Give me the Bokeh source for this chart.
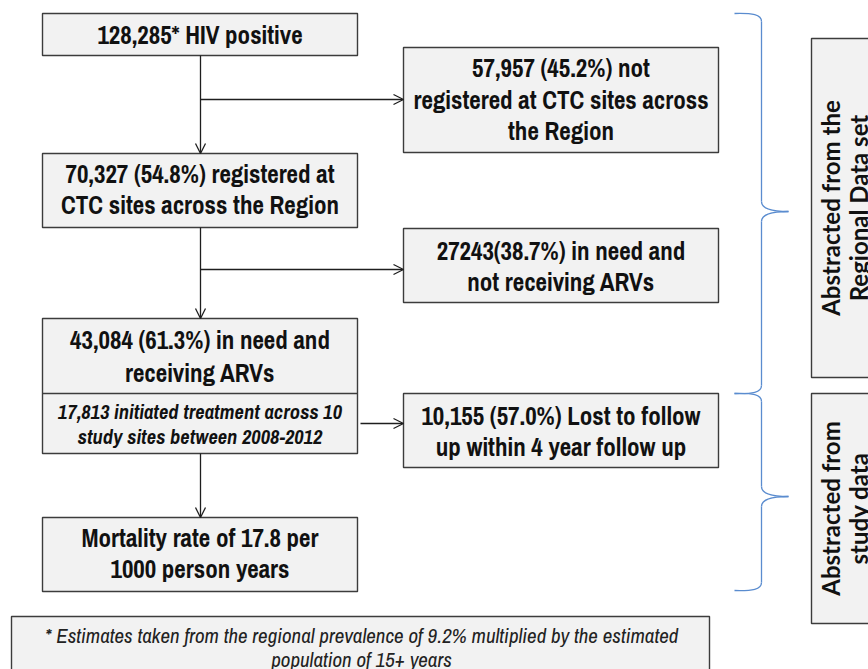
from bokeh.plotting import figure
from bokeh.models import Range1d, Arrow, OpenHead, ColumnDataSource
from bokeh.core.properties import value
from bokeh.embed import file_html
from bokeh.resources import INLINE

# ---- content (texts of the flow chart) ----
main_left = [
    ["128,285* HIV positive"],
    ["70,327 (54.8%) registered at", "CTC sites across the Region"],
    ["43,084 (61.3%) in need and", "receiving ARVs"],
    ["Mortality rate of 17.8 per", "1000 person years"],
]
sub_left = ["17,813 initiated treatment across 10", "study sites between 2008-2012"]
main_right = [
    ["57,957 (45.2%) not", "registered at CTC sites across", "the Region"],
    ["27243(38.7%) in need and", "not receiving ARVs"],
    ["10,155 (57.0%) Lost to follow", "up within 4 year follow up"],
]
side_labels = [
    ["Abstracted from the", "Regional Data set"],
    ["Abstracted from", "study data"],
]
footnote = ["* Estimates taken from the regional prevalence of 9.2% multiplied by the estimated",
            "population of 15+ years"]

# ---- layout (pixel coordinates of the page image) ----
LX0, LX1 = 42, 357
RX0, RX1 = 403, 718
left_boxes = [(13, 55), (153, 227), (318, 453), (517, 591)]
left_text_cy = [34, 189, 356, 553]
sub_text_cy = 423
divider_y = 393
right_boxes = [(47, 152), (228, 302), (393, 467)]
right_text_cy = [99, 266, 431]
side_boxes = [(38, 377), (393, 623)]
SX0, SX1 = 811, 900
foot_box = (11, 709, 616, 690)

LINE = 31.5
NARROW = "Archivo Narrow, Liberation Sans Narrow, Roboto, sans-serif"
SIDE_FONT = "Lato, Open Sans, sans-serif"

W, H = 868, 669
p = figure(width=W, height=H, output_backend="svg", toolbar_location=None,
           x_range=Range1d(0, W), y_range=Range1d(H, 0), min_border=0)
p.axis.visible = False
p.grid.visible = False
p.outline_line_color = None
p.background_fill_color = "white"

BOX_FILL = "#f2f2f2"
BOX_LINE = "#3c3c3c"

def box(x0, x1, y0, y1):
    p.quad(left=x0, right=x1, top=y0, bottom=y1, fill_color=BOX_FILL,
           line_color=BOX_LINE, line_width=1.4)

for (y0, y1) in left_boxes:
    box(LX0, LX1, y0, y1)
for (y0, y1) in right_boxes:
    box(RX0, RX1, y0, y1)
for (y0, y1) in side_boxes:
    box(SX0, SX1, y0, y1)
box(foot_box[0], foot_box[1], foot_box[2], foot_box[3])
p.segment(x0=LX0, x1=LX1, y0=divider_y, y1=divider_y, line_color=BOX_LINE, line_width=1.4)

def lines_text(lines, cx, cy, size, style, font, spacing, color="#111111", angle=0.0, horizontal=False):
    n = len(lines)
    xs, ys = [], []
    for i in range(n):
        off = (i - (n - 1) / 2) * spacing
        if horizontal:
            xs.append(cx + off); ys.append(cy)
        else:
            xs.append(cx); ys.append(cy + off)
    src = ColumnDataSource(dict(x=xs, y=ys, t=lines))
    p.text(x="x", y="y", text="t", source=src, text_align="center", text_baseline="middle",
           text_font=value(font), text_font_size=size, text_font_style=style,
           text_color=color, angle=angle)

cxl = (LX0 + LX1) / 2
cxr = (RX0 + RX1) / 2
for i, (lines, cy) in enumerate(zip(main_left, left_text_cy)):
    lines_text(lines, cxl, cy, "25px", "bold", NARROW, 33 if i == 2 else LINE)
lines_text(sub_left, cxl, sub_text_cy, "20.5px", "bold italic", NARROW, 25)
for lines, cy in zip(main_right, right_text_cy):
    lines_text(lines, cxr, cy, "25px", "bold", NARROW, LINE)
for lines, (y0, y1) in zip(side_labels, side_boxes):
    lines_text(lines, 844, (y0 + y1) / 2, "24px", "bold", SIDE_FONT, 28,
               angle=1.5708, horizontal=True)
lines_text(footnote, 361, 647, "21px", "italic", NARROW, 24, color="#222222")

# ---- arrows ----
ARROW_C = "#1e1e1e"
arrows = [
    (200, 55, 200, 153),
    (200, 99, 403, 99),
    (200, 227, 200, 318),
    (200, 269, 403, 269),
    (360, 423, 403, 423),
    (200, 453, 200, 517),
]
for (x0, y0, x1, y1) in arrows:
    p.add_layout(Arrow(end=OpenHead(size=10, line_color=ARROW_C, line_width=1.3),
                       x_start=x0, y_start=y0, x_end=x1, y_end=y1,
                       line_color=ARROW_C, line_width=1.3))

# ---- curly braces ----
BRACE_C = "#5a8ccf"
def brace(ytop, ytip, ybot, xl=734, xv=761, xt=788):
    bx0, by0, bx1, by1, c0x, c0y, c1x, c1y = [], [], [], [], [], [], [], []
    def bz(a, b, c, d):
        bx0.append(a[0]); by0.append(a[1]); bx1.append(d[0]); by1.append(d[1])
        c0x.append(b[0]); c0y.append(b[1]); c1x.append(c[0]); c1y.append(c[1])
    bz((xl, ytop), (752, ytop - 0.5), (xv, ytop + 1), (xv, ytop + 8))
    bz((xv, ytip - 10), (xv, ytip - 3), (770, ytip), (xt, ytip))
    bz((xt, ytip), (770, ytip), (xv, ytip + 3), (xv, ytip + 10))
    bz((xv, ybot - 8), (xv, ybot - 1), (752, ybot + 0.5), (xl, ybot))
    p.bezier(x0=bx0, y0=by0, x1=bx1, y1=by1, cx0=c0x, cy0=c0y, cx1=c1x, cy1=c1y,
             line_color=BRACE_C, line_width=1.3)
    p.segment(x0=[xv, xv], y0=[ytop + 8, ytip + 10], x1=[xv, xv], y1=[ytip - 10, ybot - 8],
              line_color=BRACE_C, line_width=1.3)

brace(13, 211, 393)
brace(393, 496, 590)

open("out.html", "w").write(file_html(p, INLINE))
